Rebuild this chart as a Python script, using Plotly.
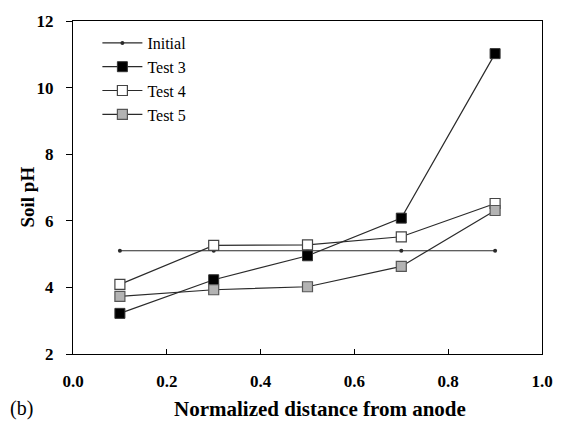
import plotly.graph_objects as go

x_vals = [0.1, 0.3, 0.5, 0.7, 0.9]
initial = [5.1, 5.1, 5.1, 5.1, 5.1]
test3 = [3.22, 4.23, 4.95, 6.08, 11.02]
test4 = [4.09, 5.26, 5.28, 5.52, 6.52]
test5 = [3.73, 3.93, 4.02, 4.63, 6.31]

x_ticks = [0.0, 0.2, 0.4, 0.6, 0.8, 1.0]
y_ticks = [2, 4, 6, 8, 10, 12]

font_family = "Liberation Serif, Times New Roman, serif"
line_col = "#2a2a2a"

fig = go.Figure()
fig.add_trace(go.Scatter(
    x=x_vals, y=initial, name="Initial", mode="lines+markers",
    line=dict(color=line_col, width=1.2),
    marker=dict(symbol="circle", size=4, color=line_col, line=dict(width=0)),
))
fig.add_trace(go.Scatter(
    x=x_vals, y=test3, name="Test 3", mode="lines+markers",
    line=dict(color=line_col, width=1.2),
    marker=dict(symbol="square", size=10, color="#000000", line=dict(color="#333333", width=1)),
))
fig.add_trace(go.Scatter(
    x=x_vals, y=test4, name="Test 4", mode="lines+markers",
    line=dict(color=line_col, width=1.2),
    marker=dict(symbol="square", size=10, color="#ffffff", line=dict(color="#444444", width=1.2)),
))
fig.add_trace(go.Scatter(
    x=x_vals, y=test5, name="Test 5", mode="lines+markers",
    line=dict(color=line_col, width=1.2),
    marker=dict(symbol="square", size=10, color="#b3b3b3", line=dict(color="#555555", width=1.2)),
))

fig.update_layout(
    width=565, height=421,
    margin=dict(l=73, r=12, t=18, b=67),
    paper_bgcolor="white", plot_bgcolor="white",
    font=dict(family=font_family, color="black"),
    showlegend=True,
    legend=dict(x=0.052, y=0.985, xanchor="left", yanchor="top",
                bgcolor="rgba(0,0,0,0)", font=dict(size=16, family=font_family),
                tracegroupgap=0, itemwidth=40),
    xaxis=dict(range=[0, 1], tickvals=x_ticks, ticktext=[f"{v:.1f}" for v in x_ticks],
               ticks="inside", ticklen=5, tickcolor="black",
               ticklabelstandoff=11,
               showline=True, linecolor="black", linewidth=1.2, mirror=True,
               showgrid=False, zeroline=False,
               tickfont=dict(size=17, family=font_family, weight="bold")),
    yaxis=dict(range=[2, 12], tickvals=y_ticks,
               ticks="outside", ticklen=6, tickcolor="black",
               ticklabelstandoff=9,
               showline=True, linecolor="black", linewidth=1.2, mirror=True,
               showgrid=False, zeroline=False,
               tickfont=dict(size=17, family=font_family, weight="bold")),
)

fig.add_annotation(text="<b>Normalized distance from anode</b>", xref="paper", yref="paper",
                   x=0.527, y=-0.164, xanchor="center", yanchor="middle", showarrow=False,
                   font=dict(size=21, family=font_family))
fig.add_annotation(text="<b>Soil pH</b>", xref="paper", yref="paper",
                   x=-0.098, y=0.470, xanchor="center", yanchor="middle", showarrow=False,
                   textangle=-90, font=dict(size=19, family=font_family))
fig.add_annotation(text="(b)", xref="paper", yref="paper", x=-0.139, y=-0.164,
                   xanchor="left", yanchor="middle", showarrow=False,
                   font=dict(size=20, family=font_family))

# remove the browser's default 8px body margin so the figure fills the window exactly
fig.write_html("out.html", config={"displayModeBar": False},
               post_script="document.body.style.margin='0';")
